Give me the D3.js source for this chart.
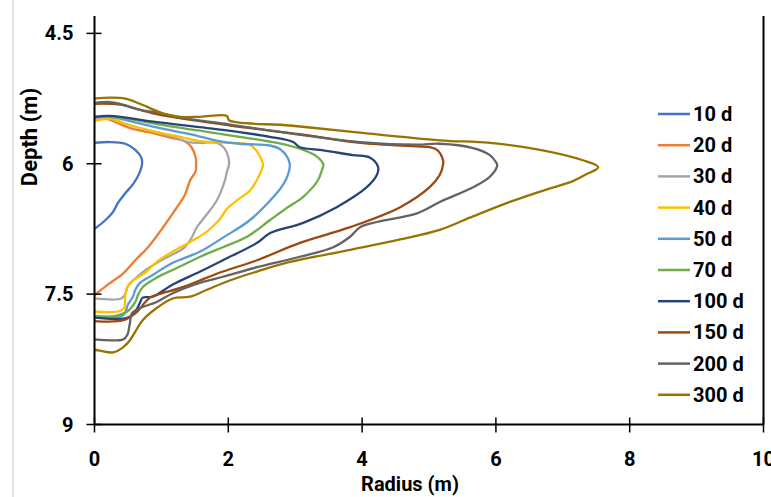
<!DOCTYPE html>
<html>
<head>
<meta charset="utf-8">
<script src="https://cdn.jsdelivr.net/npm/d3@7"></script>
<style>
  body { margin: 0; background: #fff; }
  text { font-family: Roboto, "Liberation Sans", sans-serif; font-weight: bold; fill: #000; }
</style>
</head>
<body>
<svg id="chart" width="771" height="497"></svg>
<script>
// series labels (days)
const labels = ["10 d", "20 d", "30 d", "40 d", "50 d", "70 d", "100 d", "150 d", "200 d", "300 d"];
const colors = ["#4472C4", "#ED7D31", "#A5A5A5", "#FFC000", "#5B9BD5", "#70AD47", "#264478", "#9E480E", "#636363", "#997300"];

// [radius (m), depth (m)]
const d10 = [[0,5.76],[0.23,5.75],[0.46,5.77],[0.61,5.84],[0.70,5.93],[0.71,6.01],[0.68,6.09],[0.59,6.22],[0.46,6.34],[0.35,6.45],[0.28,6.55],[0.16,6.65],[0,6.75]];
const d20 = [[0,5.50],[0.16,5.48],[0.31,5.52],[0.53,5.59],[0.83,5.64],[1.13,5.70],[1.35,5.74],[1.45,5.81],[1.51,5.92],[1.52,6.01],[1.51,6.09],[1.43,6.19],[1.35,6.36],[1.17,6.57],[0.98,6.78],[0.80,6.96],[0.61,7.11],[0.43,7.26],[0.20,7.39],[0,7.51]];
const d30 = [[0,5.50],[0.23,5.48],[0.46,5.54],[0.83,5.62],[1.13,5.68],[1.40,5.75],[1.58,5.76],[1.83,5.76],[1.94,5.82],[2.00,5.92],[2.01,6.01],[1.98,6.09],[1.95,6.19],[1.83,6.42],[1.65,6.61],[1.53,6.73],[1.46,6.84],[1.35,6.96],[1.25,7.01],[0.98,7.12],[0.75,7.23],[0.58,7.34],[0.49,7.42],[0.46,7.50],[0.40,7.55],[0,7.55]];
const d40 = [[0,5.51],[0.23,5.48],[0.46,5.54],[0.83,5.62],[1.28,5.69],[1.58,5.74],[2.03,5.76],[2.32,5.78],[2.43,5.86],[2.50,5.96],[2.52,6.01],[2.44,6.17],[2.32,6.31],[2.15,6.41],[1.99,6.51],[1.86,6.65],[1.68,6.78],[1.43,6.90],[1.17,7.01],[0.93,7.13],[0.75,7.26],[0.58,7.34],[0.49,7.42],[0.46,7.51],[0.44,7.66],[0.35,7.70],[0,7.70]];
const d50 = [[0,5.47],[0.23,5.46],[0.53,5.51],[0.98,5.59],[1.43,5.66],[1.80,5.73],[2.17,5.77],[2.62,5.79],[2.77,5.83],[2.88,5.92],[2.92,6.01],[2.89,6.13],[2.82,6.24],[2.70,6.36],[2.32,6.65],[1.92,6.85],[1.58,7.01],[1.17,7.14],[0.87,7.28],[0.68,7.37],[0.61,7.45],[0.58,7.52],[0.50,7.62],[0.43,7.74],[0,7.75]];
const d70 = [[0,5.46],[0.38,5.47],[0.98,5.55],[1.58,5.62],[2.17,5.69],[2.73,5.76],[3.12,5.84],[3.33,5.92],[3.42,6.01],[3.40,6.07],[3.34,6.19],[3.12,6.38],[2.89,6.50],[2.62,6.65],[2.28,6.84],[1.92,6.96],[1.58,7.07],[1.23,7.20],[0.93,7.31],[0.72,7.42],[0.65,7.51],[0.61,7.59],[0.49,7.70],[0.31,7.75],[0,7.76]];
const d100 = [[0,5.46],[0.23,5.45],[0.93,5.52],[1.92,5.61],[2.62,5.69],[2.97,5.75],[3.07,5.81],[3.37,5.84],[3.86,5.90],[4.12,5.93],[4.24,6.04],[4.22,6.13],[4.07,6.27],[3.62,6.50],[3.12,6.68],[2.62,6.80],[2.43,6.91],[1.92,7.11],[1.58,7.24],[1.17,7.39],[0.87,7.53],[0.72,7.54],[0.68,7.60],[0.61,7.70],[0.50,7.77],[0,7.77]];
const d150 = [[0,5.31],[0.38,5.32],[0.93,5.43],[2.03,5.56],[3.07,5.66],[3.97,5.76],[4.82,5.80],[5.01,5.81],[5.12,5.84],[5.21,5.96],[5.21,6.01],[5.16,6.13],[5.01,6.27],[4.57,6.50],[3.82,6.73],[3.07,6.91],[2.43,7.11],[1.92,7.24],[1.58,7.34],[1.32,7.42],[0.93,7.51],[0.83,7.54],[0.75,7.60],[0.64,7.70],[0.43,7.80],[0,7.81]];
const d200 = [[0,5.30],[0.23,5.29],[0.38,5.31],[0.68,5.38],[0.93,5.41],[1.28,5.47],[2.03,5.55],[2.92,5.65],[3.97,5.75],[4.82,5.78],[5.16,5.77],[5.66,5.82],[5.91,5.90],[6.00,5.98],[6.02,6.02],[5.91,6.15],[5.66,6.27],[5.16,6.44],[4.82,6.57],[4.22,6.67],[3.97,6.73],[3.82,6.84],[3.57,6.96],[3.07,7.07],[2.43,7.19],[1.92,7.30],[1.62,7.36],[1.17,7.49],[0.93,7.59],[0.68,7.66],[0.56,7.72],[0.53,7.83],[0.49,7.97],[0.43,8.02],[0,8.02]];
const d300 = [[0,5.25],[0.23,5.24],[0.46,5.25],[0.68,5.31],[1.02,5.42],[1.28,5.46],[1.58,5.46],[1.98,5.45],[2.01,5.50],[2.92,5.56],[3.82,5.63],[5.16,5.73],[5.91,5.76],[6.66,5.84],[7.30,5.96],[7.53,6.04],[7.33,6.13],[7.15,6.20],[6.66,6.32],[6.17,6.45],[5.61,6.62],[5.16,6.76],[4.57,6.87],[3.82,6.99],[2.92,7.13],[2.43,7.24],[2.03,7.34],[1.68,7.45],[1.43,7.53],[1.17,7.55],[0.93,7.66],[0.72,7.80],[0.65,7.88],[0.53,8.03],[0.43,8.11],[0.28,8.17],[0.08,8.15],[0,8.14]];
const allSeries = [d10, d20, d30, d40, d50, d70, d100, d150, d200, d300];

// axis ticks
const xTicks = [0, 2, 4, 6, 8, 10];
const yTicks = [4.5, 6, 7.5, 9];

const svg = d3.select("#chart");

// faint border line on the left
svg.append("line")
    .attr("x1", 13).attr("x2", 13).attr("y1", 0).attr("y2", 497)
    .attr("stroke", "#d9d9d9").attr("stroke-width", 1.5);

const x = d3.scaleLinear().domain([0, 10]).range([94.5, 763.5]);
const y = d3.scaleLinear().domain([4.3, 9]).range([16, 424.5]);

// curves
const line = d3.line()
    .x(d => x(d[0]))
    .y(d => y(d[1]))
    .curve(d3.curveCatmullRom.alpha(0.5));

svg.append("g").selectAll("path")
    .data(allSeries)
    .enter().append("path")
    .attr("d", line)
    .attr("fill", "none")
    .attr("stroke", (d, i) => colors[i])
    .attr("stroke-width", 2.3)
    .attr("stroke-linejoin", "round");

// x axis (ticks cross the line)
const xAxis = svg.append("g").attr("transform", `translate(0,${y(9)})`);
xAxis.append("line")
    .attr("x1", x(0)).attr("x2", x(10))
    .attr("stroke", "#000").attr("stroke-width", 2);
xAxis.selectAll(".tk").data(xTicks).enter().append("line")
    .attr("x1", d => x(d)).attr("x2", d => x(d))
    .attr("y1", -7).attr("y2", 8)
    .attr("stroke", "#000").attr("stroke-width", 1.5);
xAxis.selectAll("text").data(xTicks).enter().append("text")
    .attr("x", d => x(d)).attr("y", 41)
    .attr("text-anchor", "middle")
    .style("font-size", "20px")
    .text(d => d);

// y axis
const yAxis = svg.append("g").attr("transform", `translate(${x(0)},0)`);
yAxis.append("line")
    .attr("y1", y(4.3)).attr("y2", y(9))
    .attr("stroke", "#000").attr("stroke-width", 2);
yAxis.selectAll(".tk").data(yTicks).enter().append("line")
    .attr("y1", d => y(d)).attr("y2", d => y(d))
    .attr("x1", -8).attr("x2", 7)
    .attr("stroke", "#000").attr("stroke-width", 1.5);
yAxis.selectAll("text").data(yTicks).enter().append("text")
    .attr("x", -21).attr("y", d => y(d) + 7)
    .attr("text-anchor", "end")
    .style("font-size", "20px")
    .text(d => d);

// right edge line at radius 10
svg.append("line")
    .attr("x1", x(10)).attr("x2", x(10))
    .attr("y1", y(4.3)).attr("y2", y(9))
    .attr("stroke", "#000").attr("stroke-width", 2);

// axis titles
svg.append("text")
    .attr("x", 410).attr("y", 491)
    .attr("text-anchor", "middle")
    .style("font-size", "20px")
    .text("Radius (m)");
svg.append("text")
    .attr("transform", "translate(37,137) rotate(-90)")
    .attr("text-anchor", "middle")
    .style("font-size", "22px")
    .text("Depth (m)");

// legend
const legend = svg.append("g").attr("transform", "translate(658,114)");
const rows = legend.selectAll("g").data(labels).enter().append("g")
    .attr("transform", (d, i) => `translate(0,${i * 31.2})`);
rows.append("line")
    .attr("x1", 0).attr("x2", 32)
    .attr("stroke", (d, i) => colors[i])
    .attr("stroke-width", 2.5);
rows.append("text")
    .attr("x", 35).attr("y", 7)
    .style("font-size", "20px")
    .text(d => d);
</script>
</body>
</html>
